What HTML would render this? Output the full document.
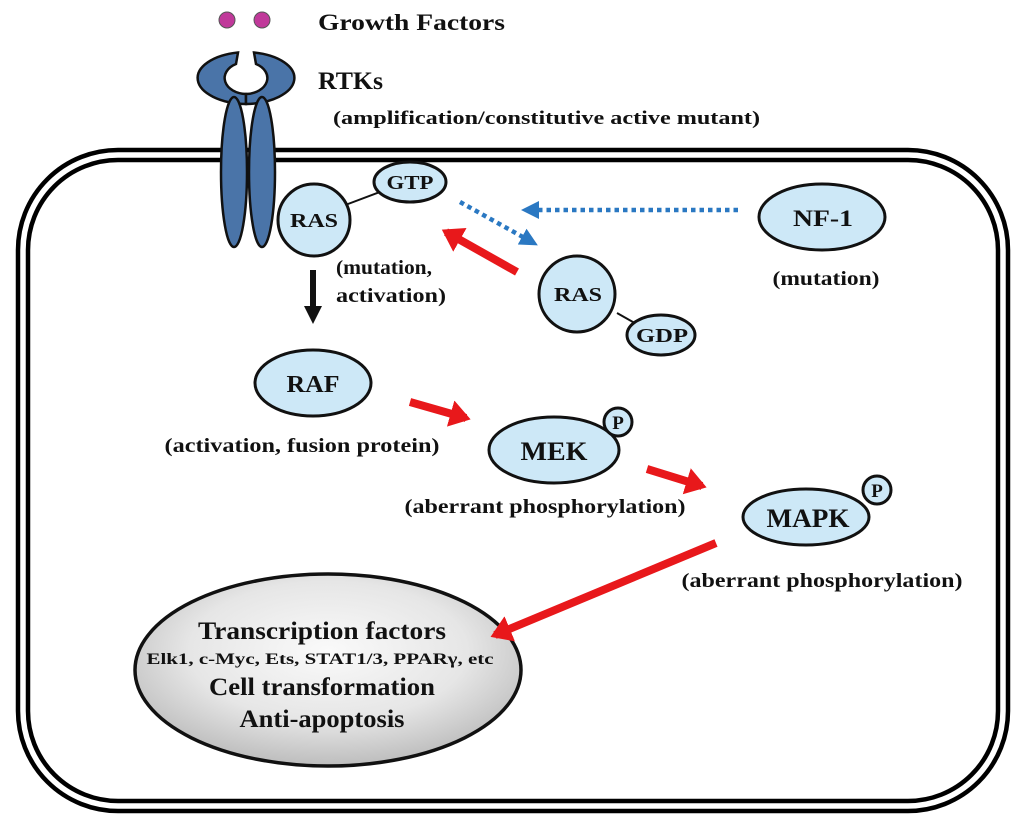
<!DOCTYPE html>
<html><head><style>body{margin:0;background:#fff}svg{display:block}text{font-family:"Liberation Serif",serif;font-weight:bold;fill:#111}</style></head><body>
<svg width="1024" height="826" viewBox="0 0 1024 826" xmlns="http://www.w3.org/2000/svg">
<defs>
<radialGradient id="g" cx="50%" cy="40%" r="60%"><stop offset="0" stop-color="#fafafa"/><stop offset="0.6" stop-color="#e6e6e6"/><stop offset="1" stop-color="#bdbdbd"/></radialGradient>
<marker id="rh" markerWidth="4" markerHeight="4" refX="2" refY="2" orient="auto" markerUnits="strokeWidth"><path d="M0,0.3 L2.6,2 L0,3.7z" fill="#e8181b"/></marker>
<marker id="bh" markerWidth="4" markerHeight="4" refX="1" refY="2" orient="auto" markerUnits="strokeWidth"><path d="M0,0.5 L3,2 L0,3.5z" fill="#111"/></marker>
<marker id="uh" markerWidth="5" markerHeight="5" refX="2" refY="2.5" orient="auto" markerUnits="strokeWidth"><path d="M0,0.5 L4,2.5 L0,4.5z" fill="#2a78c2"/></marker>
</defs>
<rect x="18" y="150" width="990" height="661" rx="100" fill="none" stroke="#000" stroke-width="4.5"/>
<rect x="28" y="160" width="970" height="641" rx="90" fill="none" stroke="#000" stroke-width="4.5"/>
<circle cx="227" cy="20" r="8" fill="#c0399a" stroke="#555" stroke-width="1"/>
<circle cx="262" cy="20" r="8" fill="#c0399a" stroke="#555" stroke-width="1"/>
<text x="318" y="30" font-size="23" textLength="187" lengthAdjust="spacingAndGlyphs">Growth  Factors</text>
<text x="318" y="89" font-size="25" textLength="65" lengthAdjust="spacingAndGlyphs">RTKs</text>
<text x="333" y="124" font-size="19" textLength="427" lengthAdjust="spacingAndGlyphs">(amplification/constitutive active mutant)</text>
<path d="M238,52.5 A50,26 0 0 0 246,104 L246,94 A22,16 0 0 1 236,64 Z" fill="#4a74a8" stroke="#111" stroke-width="2.5"/>
<path d="M254,52.5 A50,26 0 0 1 246,104 L246,94 A22,16 0 0 0 256,64 Z" fill="#4a74a8" stroke="#111" stroke-width="2.5"/>
<ellipse cx="234" cy="172" rx="13" ry="75" fill="#4a74a8" stroke="#111" stroke-width="2.5"/>
<ellipse cx="262" cy="172" rx="13" ry="75" fill="#4a74a8" stroke="#111" stroke-width="2.5"/>
<line x1="340" y1="207" x2="385" y2="190" stroke="#111" stroke-width="2"/>
<circle cx="314" cy="220" r="36" fill="#cde8f7" stroke="#111" stroke-width="3"/>
<text x="314" y="227" font-size="20" text-anchor="middle" textLength="48" lengthAdjust="spacingAndGlyphs">RAS</text>
<ellipse cx="410" cy="182" rx="36" ry="20" fill="#cde8f7" stroke="#111" stroke-width="3"/>
<text x="410" y="189" font-size="20" text-anchor="middle" textLength="47" lengthAdjust="spacingAndGlyphs">GTP</text>
<text x="336" y="274" font-size="20" textLength="96" lengthAdjust="spacingAndGlyphs">(mutation,</text>
<text x="336" y="302" font-size="20" textLength="110" lengthAdjust="spacingAndGlyphs">activation)</text>
<line x1="313" y1="270" x2="313" y2="312" stroke="#111" stroke-width="6" marker-end="url(#bh)"/>
<line x1="617" y1="313" x2="640" y2="326" stroke="#111" stroke-width="2"/>
<circle cx="577" cy="294" r="38" fill="#cde8f7" stroke="#111" stroke-width="3"/>
<text x="578" y="301" font-size="20" text-anchor="middle" textLength="48" lengthAdjust="spacingAndGlyphs">RAS</text>
<ellipse cx="661" cy="335" rx="34" ry="20" fill="#cde8f7" stroke="#111" stroke-width="3"/>
<text x="662" y="342" font-size="20" text-anchor="middle" textLength="52" lengthAdjust="spacingAndGlyphs">GDP</text>
<ellipse cx="822" cy="217" rx="63" ry="33" fill="#cde8f7" stroke="#111" stroke-width="3"/>
<text x="823" y="226" font-size="23" text-anchor="middle" textLength="60" lengthAdjust="spacingAndGlyphs">NF-1</text>
<text x="826" y="285" font-size="20" text-anchor="middle" textLength="107" lengthAdjust="spacingAndGlyphs">(mutation)</text>
<line x1="738" y1="210" x2="530" y2="210" stroke="#2a78c2" stroke-width="4.5" stroke-dasharray="4.5,4" marker-end="url(#uh)"/>
<line x1="460" y1="202" x2="530" y2="241" stroke="#2a78c2" stroke-width="4.5" stroke-dasharray="4.5,4" marker-end="url(#uh)"/>
<line x1="517" y1="272" x2="446" y2="232" stroke="#e8181b" stroke-width="8" marker-end="url(#rh)"/>
<ellipse cx="313" cy="383" rx="58" ry="33" fill="#cde8f7" stroke="#111" stroke-width="3"/>
<text x="313" y="392" font-size="24" text-anchor="middle" textLength="53" lengthAdjust="spacingAndGlyphs">RAF</text>
<text x="302" y="452" font-size="20" text-anchor="middle" textLength="275" lengthAdjust="spacingAndGlyphs">(activation, fusion protein)</text>
<line x1="410" y1="402" x2="466" y2="418" stroke="#e8181b" stroke-width="8" marker-end="url(#rh)"/>
<ellipse cx="554" cy="450" rx="65" ry="33" fill="#cde8f7" stroke="#111" stroke-width="3"/>
<text x="554" y="460" font-size="26" text-anchor="middle" textLength="67" lengthAdjust="spacingAndGlyphs">MEK</text>
<circle cx="618" cy="422" r="14" fill="#cde8f7" stroke="#111" stroke-width="3"/>
<text x="618" y="429" font-size="19" text-anchor="middle">P</text>
<text x="545" y="513" font-size="20" text-anchor="middle" textLength="281" lengthAdjust="spacingAndGlyphs">(aberrant phosphorylation)</text>
<line x1="647" y1="469" x2="702" y2="486" stroke="#e8181b" stroke-width="8" marker-end="url(#rh)"/>
<ellipse cx="806" cy="517" rx="63" ry="28" fill="#cde8f7" stroke="#111" stroke-width="3"/>
<text x="808" y="527" font-size="26" text-anchor="middle" textLength="83" lengthAdjust="spacingAndGlyphs">MAPK</text>
<circle cx="877" cy="490" r="14" fill="#cde8f7" stroke="#111" stroke-width="3"/>
<text x="877" y="497" font-size="19" text-anchor="middle">P</text>
<text x="822" y="587" font-size="20" text-anchor="middle" textLength="281" lengthAdjust="spacingAndGlyphs">(aberrant phosphorylation)</text>
<ellipse cx="328" cy="670" rx="193" ry="96" fill="url(#g)" stroke="#111" stroke-width="3.5"/>
<line x1="716" y1="543" x2="495" y2="635" stroke="#e8181b" stroke-width="8" marker-end="url(#rh)"/>
<text x="322" y="639" font-size="25" text-anchor="middle" textLength="248" lengthAdjust="spacingAndGlyphs">Transcription  factors</text>
<text x="320" y="664" font-size="16" text-anchor="middle" textLength="347" lengthAdjust="spacingAndGlyphs">Elk1, c-Myc, Ets, STAT1/3, PPARγ, etc</text>
<text x="322" y="695" font-size="25" text-anchor="middle" textLength="226" lengthAdjust="spacingAndGlyphs">Cell transformation</text>
<text x="322" y="727" font-size="25" text-anchor="middle" textLength="165" lengthAdjust="spacingAndGlyphs">Anti-apoptosis</text>
</svg>
</body></html>
